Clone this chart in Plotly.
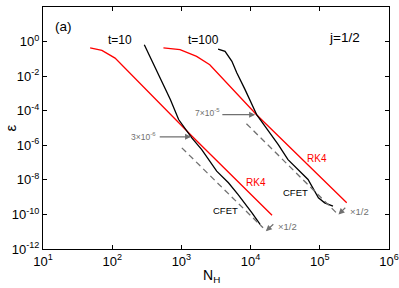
import plotly.graph_objects as go

# ---- data ----
rk4_t10_N = [48, 71, 110, 1450, 20400]
rk4_t10_eps = [0.43, 0.31, 0.11, 3.1e-6, 8.9e-11]

rk4_t100_N = [550, 955, 1660, 2570, 12300, 245000]
rk4_t100_eps = [0.43, 0.34, 0.14, 0.046, 5.7e-5, 4.7e-10]

cfet_t10_N = [291, 582, 692, 912, 1413, 1968, 3236, 4786, 6607, 10470, 13800]
cfet_t10_eps = [0.66, 1.66e-3, 4.4e-4, 3.1e-5, 2.7e-6, 5.6e-7, 3.2e-8, 6.8e-9, 1.4e-9, 1.23e-10, 2.6e-11]

cfet_t100_N = [3390, 4270, 5370, 6310, 8320, 10960, 12300, 16200, 25100, 34700,
               49000, 67600, 95500, 117500, 155000]
cfet_t100_eps = [0.37, 0.27, 0.072, 0.0155, 1.66e-3, 1.45e-4, 5.7e-5, 1.26e-5, 1.1e-6,
                 1.48e-7, 4e-8, 1.05e-8, 9.1e-10, 4.7e-10, 3e-10]

half_t10_N = [1014, 15140]
half_t10_eps = [7.1e-7, 1.7e-11]
half_t100_N = [8710, 174000]
half_t100_eps = [1.78e-5, 1.23e-10]

x_tickvals = [1e1, 1e2, 1e3, 1e4, 1e5, 1e6]
x_ticktext = ["10<sup>1</sup>", "10<sup>2</sup>", "10<sup>3</sup>", "10<sup>4</sup>",
              "10<sup>5</sup>", "10<sup>6</sup>"]
y_tickvals = [1e2, 1e0, 1e-2, 1e-4, 1e-6, 1e-8, 1e-10, 1e-12]
y_ticktext = ["10<sup>2</sup>", "10<sup>0</sup>", "10<sup>-2</sup>", "10<sup>-4</sup>",
              "10<sup>-6</sup>", "10<sup>-8</sup>", "10<sup>-10</sup>", "10<sup>-12</sup>"]

RED = "#ff0000"
BLACK = "#000000"
GRAY = "#707070"
FONT = "Liberation Sans, Arial, sans-serif"

fig = go.Figure()
for xs, ys in [(rk4_t10_N, rk4_t10_eps), (rk4_t100_N, rk4_t100_eps)]:
    fig.add_trace(go.Scatter(x=xs, y=ys, mode="lines", line=dict(color=RED, width=1.3)))
for xs, ys in [(cfet_t10_N, cfet_t10_eps), (cfet_t100_N, cfet_t100_eps)]:
    fig.add_trace(go.Scatter(x=xs, y=ys, mode="lines", line=dict(color=BLACK, width=1.3)))
for xs, ys in [(half_t10_N, half_t10_eps), (half_t100_N, half_t100_eps)]:
    fig.add_trace(go.Scatter(x=xs, y=ys, mode="lines",
                             line=dict(color=GRAY, width=1.3, dash="6px,4px")))

axis_common = dict(type="log", showgrid=False, zeroline=False, showline=True,
                   linecolor="black", linewidth=1, mirror="ticks", ticks="inside",
                   ticklen=4, tickwidth=1, tickcolor="black", automargin=False,
                   tickfont=dict(family=FONT, size=13, color="black"))
fig.update_xaxes(range=[1, 6], tickvals=x_tickvals, ticktext=x_ticktext, **axis_common)
fig.update_yaxes(range=[-12, 2], tickvals=y_tickvals, ticktext=y_ticktext, **axis_common)

ann = []
def txt(x, y, s, size=10, color="black", xanchor="center"):
    ann.append(dict(x=x, y=y, xref="x", yref="y", text=s, showarrow=False,
                    xanchor=xanchor, yanchor="middle",
                    font=dict(family=FONT, size=size, color=color)))

def arrow(hx, hy, tx, ty):
    ann.append(dict(x=hx, y=hy, ax=tx, ay=ty, xref="x", yref="y", axref="x", ayref="y",
                    text="", showarrow=True, arrowhead=2, arrowsize=1, arrowwidth=1.2,
                    arrowcolor=GRAY))

txt(1.29, 0.88, "(a)", size=13.5)
txt(2.107, 0.07, "t=10", size=12)
txt(3.313, 0.07, "t=100", size=12)
txt(5.354, 0.21, "j=1/2", size=13.5)
txt(4.08, -8.17, "RK4", size=10, color=RED)
txt(4.965, -6.77, "RK4", size=10, color=RED)
txt(3.635, -9.77, "CFET", size=9.5)
txt(4.65, -8.75, "CFET", size=9.5)
txt(2.45, -5.49, "3×10<sup>-6</sup>", size=8.5, color=GRAY)
txt(3.37, -4.12, "7×10<sup>-5</sup>", size=8.5, color=GRAY)
txt(4.37, -10.68, "×1/2", size=9.5, color=GRAY, xanchor="left")
txt(5.405, -9.81, "×1/2", size=9.5, color=GRAY, xanchor="left")
arrow(3.14, -5.51, 2.665, -5.51)
arrow(4.065, -4.23, 3.57, -4.23)
arrow(4.22, -10.97, 4.35, -10.49)
arrow(5.27, -10.0, 5.39, -9.53)

# axis titles
ann.append(dict(x=0.488, y=-0.112, xref="paper", yref="paper", text="N<sub>H</sub>",
                showarrow=False, xanchor="center", yanchor="middle",
                font=dict(family=FONT, size=14, color="black")))
ann.append(dict(x=-0.094, y=0.5, xref="paper", yref="paper", text="ε",
                showarrow=False, xanchor="center", yanchor="middle", textangle=-90,
                font=dict(family=FONT, size=15, color="black")))

fig.update_layout(width=399, height=288, margin=dict(l=43, r=10, t=7, b=39),
                  plot_bgcolor="white", paper_bgcolor="white", showlegend=False,
                  annotations=ann, font=dict(family=FONT))
fig.write_html("out.html", config={"displayModeBar": False},
               post_script="document.body.style.margin='0';document.body.style.padding='0';"
                           "document.body.style.overflow='hidden';")
